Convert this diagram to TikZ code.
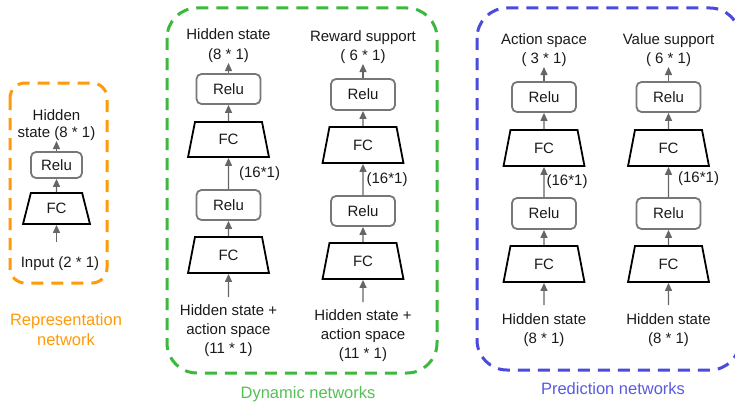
\documentclass[tikz,border=0pt]{standalone}
\usepackage{fontspec}
\setmainfont{Liberation Sans}
\usetikzlibrary{shapes.geometric,arrows.meta}
\definecolor{orng}{HTML}{FF9A0A}
\definecolor{grn}{HTML}{3CB93C}
\definecolor{grntxt}{HTML}{55C055}
\definecolor{blu}{HTML}{4A4ADC}
\definecolor{blutxt}{HTML}{5A5AE0}
\definecolor{relugray}{HTML}{777777}
\definecolor{arrgray}{HTML}{666666}
\definecolor{txt}{HTML}{1A1A1A}
\begin{document}
\begin{tikzpicture}[x=1pt,y=-1pt,
  every node/.style={font=\fontsize{15}{19}\selectfont, text=txt},
  relubox/.style={draw=relugray, line width=1.8pt, rounded corners=5pt,
    minimum width=64pt, minimum height=30pt, inner sep=0pt},
  fcbox/.style={draw=black, line width=1.8pt, trapezium, trapezium stretches=true,
    trapezium left angle=79, trapezium right angle=79,
    minimum width=81pt, minimum height=36pt, inner sep=0pt},
  arr/.style={draw=arrgray, line width=1.3pt, -{Triangle[length=8pt,width=7pt]}},
  txtlbl/.style={align=center, inner xsep=0pt, inner ysep=0pt},
  dimlbl/.style={anchor=west, inner sep=0pt},
  groupbox/.style={line width=3pt, dash pattern=on 12pt off 8pt},
  caption/.style={align=center, inner sep=0pt, font=\fontsize{16.5}{20}\selectfont}
]
\clip (0,0) rectangle (735,404);

% ---------- group boxes ----------
\draw[groupbox, draw=orng, rounded corners=15pt] (10,83) rectangle (107,283);
\draw[groupbox, draw=grn, rounded corners=30pt] (167,8) rectangle (437,373);
\draw[groupbox, draw=blu, rounded corners=30pt] (477,8) rectangle (740,370);

% ---------- representation network ----------
\node[relubox, minimum width=51pt, minimum height=26pt] (r-relu) at (56.5,165) {Relu};
\node[fcbox, minimum width=67pt, minimum height=31pt,
  trapezium left angle=74, trapezium right angle=74] (r-fc) at (56.5,208.5) {FC};
\node[txtlbl, anchor=south, font=\fontsize{15}{17}\selectfont] (r-out) at (56.5,141) {Hidden\\state (8 * 1)};
\node[txtlbl, anchor=north, inner ysep=14pt] (r-in) at (60,242) {Input (2 * 1)};
\draw[arr] (r-in.north -| r-fc.south) -- (r-fc.south);
\draw[arr] (r-fc.north) -- (r-relu.south);
\draw[arr] (r-relu.north) -- (r-out.south);
\node[caption, text=orng] (r-cap) at (66,330) {Representation\\network};

% ---------- dynamic network: hidden state ----------
\node[relubox] (dl-relu1) at (228.5,89) {Relu};
\node[fcbox, minimum height=35pt] (dl-fc1) at (228.5,139.5) {FC};
\node[relubox] (dl-relu2) at (228.5,205) {Relu};
\node[fcbox] (dl-fc2) at (228.5,255) {FC};
\node[txtlbl, anchor=south, font=\fontsize{15}{20}\selectfont] (dl-out) at (228.5,63) {Hidden state\\(8 * 1)};
\node[txtlbl, anchor=north, inner ysep=7pt] (dl-in) at (228.5,297) {Hidden state +\\action space\\(11 * 1)};
\draw[arr] (dl-in.north) -- (dl-fc2.south);
\draw[arr] (dl-fc2.north) -- (dl-relu2.south);
\draw[arr] (dl-relu2.north) -- node[dimlbl, xshift=10pt] (dl-dim) {(16*1)} (dl-fc1.south);
\draw[arr] (dl-fc1.north) -- (dl-relu1.south);
\draw[arr] (dl-relu1.north) -- (dl-out.south);

% ---------- dynamic network: reward ----------
\node[relubox, minimum height=31pt] (dr-relu1) at (363,94.5) {Relu};
\node[fcbox] (dr-fc1) at (363,145) {FC};
\node[relubox] (dr-relu2) at (363,211) {Relu};
\node[fcbox] (dr-fc2) at (363,261) {FC};
\node[txtlbl, anchor=south, font=\fontsize{15}{19}\selectfont] (dr-out) at (363,64) {Reward support\\( 6 * 1)};
\node[txtlbl, anchor=north, inner ysep=7pt] (dr-in) at (363,302) {Hidden state +\\action space\\(11 * 1)};
\draw[arr] (dr-in.north) -- (dr-fc2.south);
\draw[arr] (dr-fc2.north) -- (dr-relu2.south);
\draw[arr] (dr-relu2.north) -- node[dimlbl, xshift=3pt] (dr-dim) {(16*1)} (dr-fc1.south);
\draw[arr] (dr-fc1.north) -- (dr-relu1.south);
\draw[arr] (dr-relu1.north) -- (dr-out.south);

\node[caption, text=grntxt] (d-cap) at (308,394) {Dynamic networks};

% ---------- prediction network: action ----------
\node[relubox] (pl-relu1) at (544,97) {Relu};
\node[fcbox] (pl-fc1) at (544,148) {FC};
\node[relubox, minimum height=31pt] (pl-relu2) at (544,213.5) {Relu};
\node[fcbox] (pl-fc2) at (544,264) {FC};
\node[txtlbl, anchor=south] (pl-out) at (544,67) {Action space\\( 3 * 1)};
\node[txtlbl, anchor=north, inner ysep=8pt] (pl-in) at (544,305) {Hidden state\\(8 * 1)};
\draw[arr] (pl-in.north) -- (pl-fc2.south);
\draw[arr] (pl-fc2.north) -- (pl-relu2.south);
\draw[arr] (pl-relu2.north) -- node[dimlbl, xshift=2pt] (pl-dim) {(16*1)} (pl-fc1.south);
\draw[arr] (pl-fc1.north) -- (pl-relu1.south);
\draw[arr] (pl-relu1.north) -- (pl-out.south);

% ---------- prediction network: value ----------
\node[relubox] (pr-relu1) at (668.5,97) {Relu};
\node[fcbox] (pr-fc1) at (668.5,148) {FC};
\node[relubox, minimum height=31pt] (pr-relu2) at (668.5,213.5) {Relu};
\node[fcbox] (pr-fc2) at (668.5,264) {FC};
\node[txtlbl, anchor=south] (pr-out) at (668.5,67) {Value support\\( 6 * 1)};
\node[txtlbl, anchor=north, inner ysep=8pt] (pr-in) at (668.5,305) {Hidden state\\(8 * 1)};
\draw[arr] (pr-in.north) -- (pr-fc2.south);
\draw[arr] (pr-fc2.north) -- (pr-relu2.south);
\draw[arr] (pr-relu2.north) -- node[dimlbl, xshift=9pt, yshift=3pt] (pr-dim) {(16*1)} (pr-fc1.south);
\draw[arr] (pr-fc1.north) -- (pr-relu1.south);
\draw[arr] (pr-relu1.north) -- (pr-out.south);

\node[caption, text=blutxt] (p-cap) at (613,389) {Prediction networks};
\end{tikzpicture}
\end{document}
